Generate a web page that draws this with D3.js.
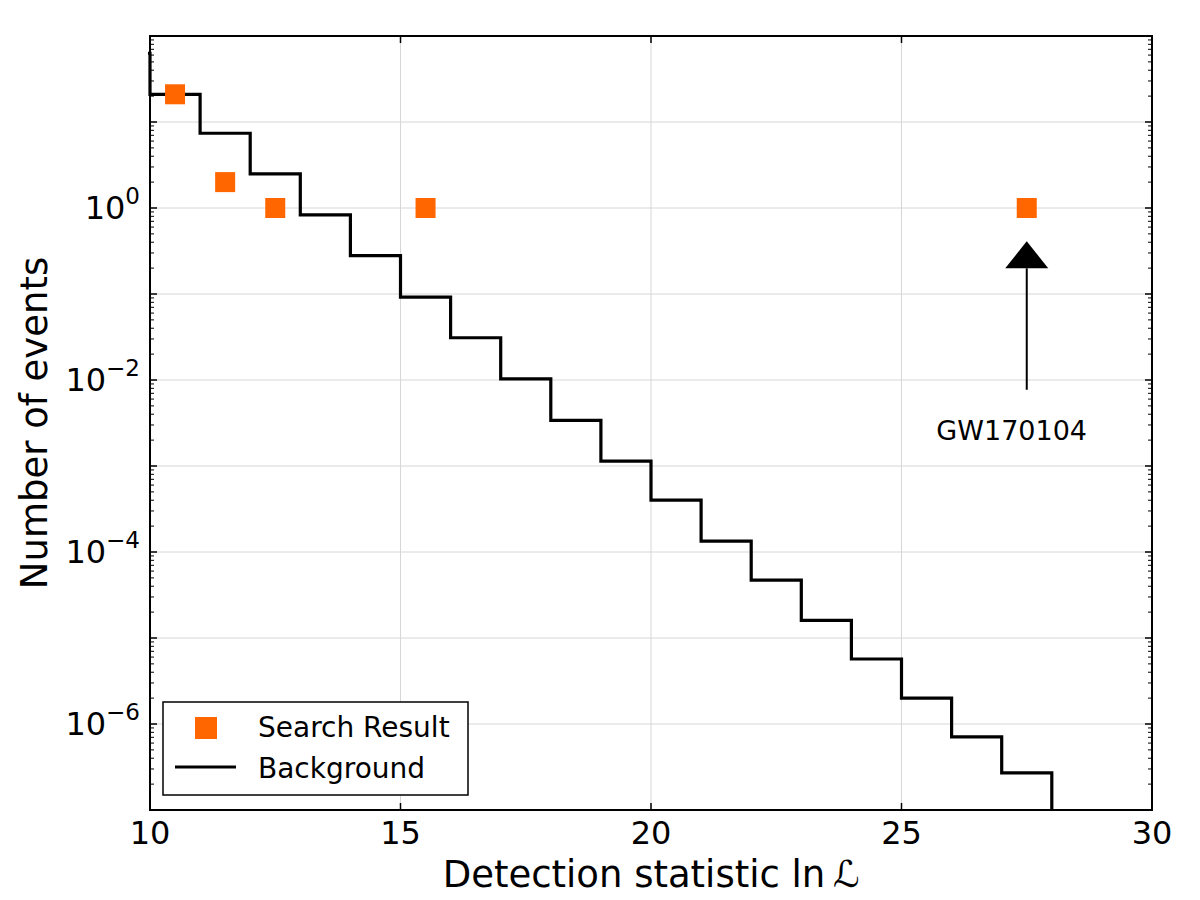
<!DOCTYPE html>
<html>
<head>
<meta charset="utf-8">
<script src="https://cdn.jsdelivr.net/npm/d3@7"></script>
<style>
  body { margin: 0; background: #fff; }
  svg { font-family: "DejaVu Sans", sans-serif; }
</style>
</head>
<body>
<svg id="chart" width="1200" height="900"></svg>
<script>
// background histogram: bin edges and expected counts
var binEdges = [9, 10, 11, 12, 13, 14, 15, 16, 17, 18, 19, 20, 21, 22, 23, 24, 25, 26, 27, 28];
var background = [63, 21, 7.4, 2.5, 0.83, 0.28, 0.092, 0.031, 0.0103, 0.0034, 0.00114, 4.0e-4, 1.34e-4, 4.7e-5, 1.6e-5, 5.7e-6, 2.0e-6, 7.1e-7, 2.7e-7];
// search results (bin centres, counts)
var searchX = [10.5, 11.5, 12.5, 15.5, 27.5];
var searchY = [21, 2, 1, 1, 1];
var xTicks = [10, 15, 20, 25, 30];
var yLabelExps = [0, -2, -4, -6];
var annot = {label: 'GW170104', tipX: 27.5, tipY: 0.41, tailY: 0.0077, textX: 27.2, textY: 0.002};

var svg = d3.select('#chart');
var margin = {top: 36, right: 48, bottom: 90, left: 150};
var width = +svg.attr('width') - margin.left - margin.right;
var height = +svg.attr('height') - margin.top - margin.bottom;
var g = svg.append('g').attr('transform', 'translate(' + margin.left + ',' + margin.top + ')');

var x = d3.scaleLinear().domain([10, 30]).range([0, width]);
var y = d3.scaleLog().domain([1e-7, 1e2]).range([height, 0]);

svg.append('defs').append('clipPath').attr('id', 'clip')
  .append('rect').attr('x', -2).attr('width', width + 2).attr('height', height);

// grid
var decades = d3.range(-6, 2).map(function(e) { return Math.pow(10, e); });
g.selectAll('.gy').data(decades).enter().append('line')
  .attr('x1', 0).attr('x2', width)
  .attr('y1', function(d) { return y(d); }).attr('y2', function(d) { return y(d); })
  .attr('stroke', '#d6d6d6').attr('stroke-width', 1);
g.selectAll('.gx').data([15, 20, 25]).enter().append('line')
  .attr('y1', 0).attr('y2', height)
  .attr('x1', function(d) { return x(d); }).attr('x2', function(d) { return x(d); })
  .attr('stroke', '#d6d6d6').attr('stroke-width', 1);

// background step line
var pts = [];
background.forEach(function(v, i) {
  pts.push([binEdges[i], v]);
  pts.push([binEdges[i + 1], v]);
});
pts.push([binEdges[binEdges.length - 1], 1e-9]);
var line = d3.line()
  .x(function(d) { return x(d[0]); })
  .y(function(d) { return y(d[1]); });
g.append('path').datum(pts)
  .attr('clip-path', 'url(#clip)')
  .attr('d', line)
  .attr('fill', 'none').attr('stroke', '#000').attr('stroke-width', 3.2);

// search result markers
var ms = 20;
g.selectAll('.pt').data(searchX).enter().append('rect')
  .attr('x', function(d) { return x(d) - ms / 2; })
  .attr('y', function(d, i) { return y(searchY[i]) - ms / 2; })
  .attr('width', ms).attr('height', ms)
  .attr('fill', '#ff6600');

// annotation arrow
var ax = x(annot.tipX), tipY = y(annot.tipY), headH = 27, headW = 43;
g.append('line')
  .attr('x1', ax).attr('x2', ax)
  .attr('y1', y(annot.tailY)).attr('y2', tipY + headH)
  .attr('stroke', '#000').attr('stroke-width', 2);
g.append('path')
  .attr('d', 'M' + ax + ',' + tipY + 'L' + (ax + headW / 2) + ',' + (tipY + headH) + 'L' + (ax - headW / 2) + ',' + (tipY + headH) + 'Z')
  .attr('fill', '#000');
g.append('text')
  .attr('x', x(annot.textX)).attr('y', y(annot.textY))
  .attr('text-anchor', 'middle').attr('font-size', 27)
  .text(annot.label);

// ticks (inside, all four sides)
var minor = [];
d3.range(-7, 2).forEach(function(e) {
  for (var k = 2; k < 10; k++) minor.push(k * Math.pow(10, e));
});
var majorY = d3.range(-7, 3).map(function(e) { return Math.pow(10, e); });
function yTicks(x0, dir) {
  g.selectAll(null).data(majorY).enter().append('line')
    .attr('x1', x0).attr('x2', x0 + dir * 7)
    .attr('y1', function(d) { return y(d); }).attr('y2', function(d) { return y(d); })
    .attr('stroke', '#000').attr('stroke-width', 1.5);
  g.selectAll(null).data(minor).enter().append('line')
    .attr('x1', x0).attr('x2', x0 + dir * 4)
    .attr('y1', function(d) { return y(d); }).attr('y2', function(d) { return y(d); })
    .attr('stroke', '#000').attr('stroke-width', 1);
}
yTicks(0, 1);
yTicks(width, -1);
[[height, -1], [0, 1]].forEach(function(s) {
  g.selectAll(null).data(xTicks).enter().append('line')
    .attr('x1', function(d) { return x(d); }).attr('x2', function(d) { return x(d); })
    .attr('y1', s[0]).attr('y2', s[0] + s[1] * 7)
    .attr('stroke', '#000').attr('stroke-width', 1.5);
});

// frame
g.append('rect').attr('width', width).attr('height', height)
  .attr('fill', 'none').attr('stroke', '#000').attr('stroke-width', 2);

// x tick labels
g.selectAll('.xl').data(xTicks).enter().append('text')
  .attr('x', function(d) { return x(d); }).attr('y', height + 34)
  .attr('text-anchor', 'middle').attr('font-size', 32)
  .text(function(d) { return d; });

// y tick labels
var yl = g.selectAll('.yl').data(yLabelExps).enter().append('text')
  .attr('x', -10).attr('y', function(d) { return y(Math.pow(10, d)) + 11; })
  .attr('text-anchor', 'end').attr('font-size', 32);
yl.append('tspan').text('10');
yl.append('tspan').attr('dy', -15).attr('font-size', 23)
  .text(function(d) { return d < 0 ? '\u2212' + (-d) : d; });

// axis titles
svg.append('text')
  .attr('x', margin.left + width / 2).attr('y', 887)
  .attr('text-anchor', 'middle').attr('font-size', 37)
  .text('Detection statistic ln\u2009')
  .append('tspan').attr('font-style', 'italic').text('\u2112');
svg.append('text')
  .attr('transform', 'translate(47,' + (margin.top + height / 2) + ') rotate(-90)')
  .attr('text-anchor', 'middle').attr('font-size', 37)
  .text('Number of events');

// legend
var lg = g.append('g').attr('transform', 'translate(' + 13 + ',' + (height - 108) + ')');
lg.append('rect').attr('width', 305).attr('height', 93)
  .attr('fill', '#fff').attr('stroke', '#000').attr('stroke-width', 1.5);
lg.append('rect').attr('x', 32).attr('y', 15).attr('width', 22).attr('height', 22).attr('fill', '#ff6600');
lg.append('line').attr('x1', 12).attr('x2', 73).attr('y1', 65).attr('y2', 65)
  .attr('stroke', '#000').attr('stroke-width', 3.2);
lg.append('text').attr('x', 95).attr('y', 35).attr('font-size', 28).text('Search Result');
lg.append('text').attr('x', 95).attr('y', 76).attr('font-size', 28).text('Background');
</script>
</body>
</html>
